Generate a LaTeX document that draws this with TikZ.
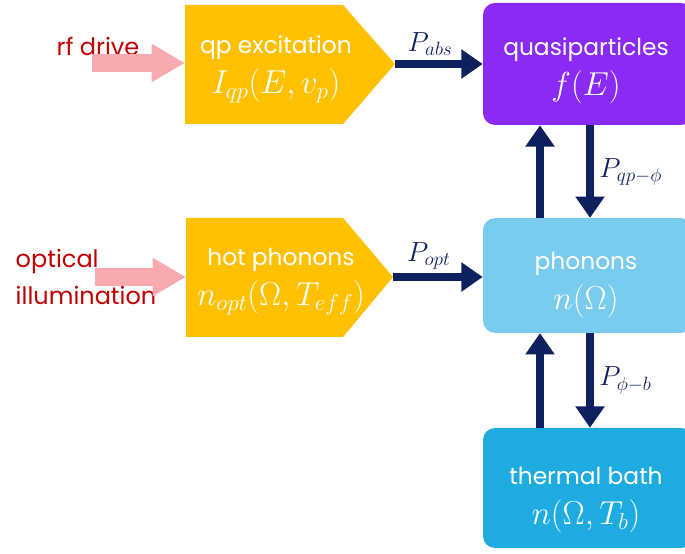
\documentclass[tikz,border=0pt]{standalone}
\usepackage{fontspec}
\setmainfont{Poppins}
\usetikzlibrary{arrows.meta}

\definecolor{gold}{HTML}{FFC000}
\definecolor{violetbox}{RGB}{138,43,245}
\definecolor{phononblue}{RGB}{122,204,238}
\definecolor{bathblue}{RGB}{30,172,224}
\definecolor{navy}{RGB}{13,33,95}
\definecolor{pinkin}{RGB}{248,170,176}
\definecolor{darkred}{HTML}{C00000}

% larger math, as in the slide
\newcommand{\bigmath}[1]{{\fontsize{24}{30}\selectfont$#1$}}

\tikzset{
  intext/.style={text=white, align=center, inner sep=0pt, font=\fontsize{17.5}{30}\selectfont},
  statebox/.style={rectangle, rounded corners=9pt, minimum width=157.5pt},
  flow/.style={navy, line width=5.5pt, -{Triangle[length=16pt,width=21pt]}},
  feed/.style={pinkin, line width=13pt, -{Triangle[length=25pt,width=27pt]}},
  plabel/.style={text=navy, font=\fontsize{22}{24}\selectfont},
  srclabel/.style={text=darkred, font=\fontsize{18}{28}\selectfont, align=left},
}

\begin{document}
\begin{tikzpicture}[x=0.75pt,y=0.75pt]

  \useasboundingbox (0,0) rectangle (685,553);

  % state boxes
  \node[statebox, fill=violetbox, minimum height=91.5pt] (quasi) at (588,489) {};
  \node[statebox, fill=phononblue, minimum height=86pt] (phon) at (588,277.5) {};
  \node[statebox, fill=bathblue, minimum height=90pt] (bath) at (588,65) {};
  \node[intext] (quasitxt) at (586,482) {quasiparticles\\\bigmath{f(E)}};
  \node[intext] (phontxt) at (586,267.5) {phonons\\\bigmath{n(\Omega)}};
  \node[intext] (bathtxt) at (586,53) {thermal bath\\\bigmath{n(\Omega,T_b)}};

  % input boxes (pentagons)
  \fill[gold] (185,429) -- (343,429) -- (395,489) -- (343,548) -- (185,548) -- cycle;
  \fill[gold] (186,216) -- (343,216) -- (393,276) -- (343,335) -- (186,335) -- cycle;
  \coordinate (qpxin) at (185,489);
  \coordinate (qpxtip) at (395,489);
  \coordinate (hotin) at (186,276);
  \coordinate (hottip) at (393,276);
  \node[intext] (qpx) at (276,484) {qp excitation\\\bigmath{I_{qp}(E,v_p)}};
  \node[intext] (hot) at (281,271) {hot phonons\\\bigmath{n_{opt}(\Omega,T_{eff})}};

  % drives
  \node[srclabel] (rf) at (98,507) {rf drive};
  \node[srclabel, anchor=west] (opt) at (11,276) {optical\\illumination};
  \coordinate (rfin) at (92,490);
  \coordinate (optin) at (95,276);
  \draw[feed] (rfin) -- (rfin -| qpxin);
  \draw[feed] (optin) -- (hotin);

  % power flows
  \draw[flow] (qpxtip) -- (qpxtip -| quasi.west) node[plabel, pos=0.4, above=0pt] {$P_{abs}$};
  \draw[flow] (hottip) -- (hottip -| phon.west) node[plabel, pos=0.4, above=0pt] {$P_{opt}$};
  \draw[flow] ([xshift=1.5pt]quasi.south) -- ([xshift=1.5pt]phon.north) node[plabel, midway, right=1pt] {$P_{qp-\phi}$};
  \draw[flow] ([xshift=-36pt]phon.north) -- ([xshift=-36pt]quasi.south);
  \draw[flow] ([xshift=1.5pt]phon.south) -- ([xshift=1.5pt]bath.north) node[plabel, midway, right=1pt] {$P_{\phi-b}$};
  \draw[flow] ([xshift=-36pt]bath.north) -- ([xshift=-36pt]phon.south);

\end{tikzpicture}
\end{document}
